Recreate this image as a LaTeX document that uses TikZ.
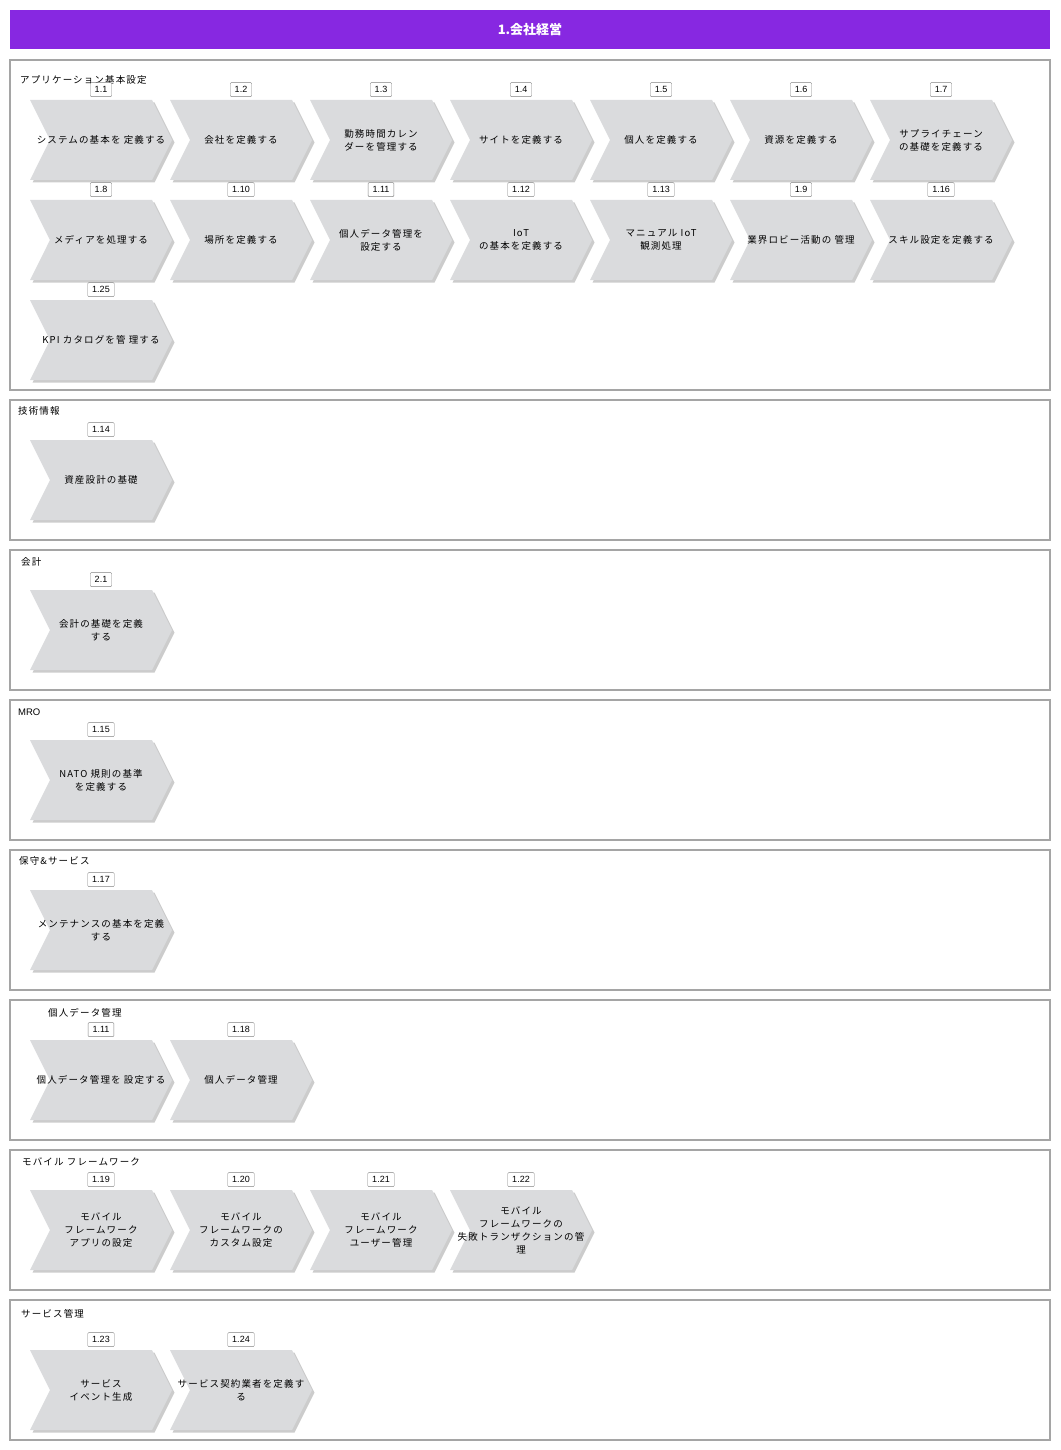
\documentclass[tikz,border=0pt]{standalone}
\usepackage{fontspec}
\setmainfont{Noto Sans CJK JP}
\newfontfamily\numfont{Liberation Sans}
\usepackage{tikz}
\usetikzlibrary{positioning, shapes.symbols, shadows}
\usepackage{xcolor}
\definecolor{titlepurple}{RGB}{135,40,225}
\definecolor{chevgray}{RGB}{218,219,221}
\definecolor{lanegray}{RGB}{165,165,165}

\tikzset{
  chev/.style={signal, signal from=west, signal to=east, signal pointer angle=126.87,
    fill=chevgray, minimum width=142, minimum height=80, inner sep=0pt,
    drop shadow={shadow xshift=2.5pt, shadow yshift=-2.5pt, fill=black!40, opacity=0.5}},
  chevtext/.style={align=center, inner sep=0pt,
    font=\fontsize{9.5}{13}\selectfont\addfontfeature{LetterSpace=12}},
  num/.style={draw=gray, rounded corners=1pt, fill=white, inner xsep=4.5pt, inner ysep=0pt,
    minimum height=14, font=\numfont\fontsize{9}{10}\selectfont},
  lane/.style={draw=lanegray, line width=1.6},
  lanelabel/.style={anchor=west, inner sep=0pt,
    font=\fontsize{9.5}{12}\selectfont\addfontfeature{LetterSpace=12}},
}

\begin{document}
\begin{tikzpicture}[x=1pt, y=-1pt]
    \useasboundingbox (0,0) rectangle (1060,1450);

    % Title
    \node[fill=titlepurple, minimum width=1040, minimum height=39, text=white,
      font=\bfseries\fontsize{13}{15}\selectfont] (title) at (530,29.5) {1.会社経営};

    % Lanes
    \draw[lane] (10,60) rectangle (1050,390);
    \draw[lane] (10,400) rectangle (1050,540);
    \draw[lane] (10,550) rectangle (1050,690);
    \draw[lane] (10,700) rectangle (1050,840);
    \draw[lane] (10,850) rectangle (1050,990);
    \draw[lane] (10,1000) rectangle (1050,1140);
    \draw[lane] (10,1150) rectangle (1050,1290);
    \draw[lane] (10,1300) rectangle (1050,1440);

    \node[lanelabel] (lappbase) at (20,80) {アプリケーション基本設定};
    \node[lanelabel] (ltechinfo) at (18,411) {技術情報};
    \node[lanelabel] (lacct) at (21,562) {会計};
    \node[lanelabel] (lmro) at (18,712) {\numfont MRO};
    \node[lanelabel] (lmaint) at (19,861) {保守\&サービス};
    \node[lanelabel] (lpdata) at (48,1013) {個人データ管理};
    \node[lanelabel] (lmobile) at (22,1162) {モバイル フレームワーク};
    \node[lanelabel] (lservice) at (21,1314) {サービス管理};

    % Application base setup
    \node[chev, label={[chevtext]center:システムの基本を 定義する}] (sysbase) at (101,140) {};
    \node[chev, label={[chevtext]center:会社を定義する}] (company) at (241,140) {};
    \node[chev, label={[chevtext]center:勤務時間カレン\\ダーを管理する}] (workcal) at (381,140) {};
    \node[chev, label={[chevtext]center:サイトを定義する}] (site) at (521,140) {};
    \node[chev, label={[chevtext]center:個人を定義する}] (person) at (661,140) {};
    \node[chev, label={[chevtext]center:資源を定義する}] (resource) at (801,140) {};
    \node[chev, label={[chevtext]center:サプライチェーン\\の基礎を定義する}] (supply) at (941,140) {};

    \node[chev, label={[chevtext]center:メディアを処理する}] (media) at (101,240) {};
    \node[chev, label={[chevtext]center:場所を定義する}] (place) at (241,240) {};
    \node[chev, label={[chevtext]center:個人データ管理を\\設定する}] (pdconf) at (381,240) {};
    \node[chev, label={[chevtext]center:IoT\\の基本を定義する}] (iotbase) at (521,240) {};
    \node[chev, label={[chevtext]center:マニュアル IoT\\観測処理}] (iotmanual) at (661,240) {};
    \node[chev, label={[chevtext]center:業界ロビー活動の 管理}] (lobby) at (801,240) {};
    \node[chev, label={[chevtext]center:スキル設定を定義する}] (skill) at (941,240) {};

    \node[chev, label={[chevtext]center:KPI カタログを管 理する}] (kpi) at (101,340) {};

    % Other lanes
    \node[chev, label={[chevtext]center:資産設計の基礎}] (assetdesign) at (101,480) {};
    \node[chev, label={[chevtext]center:会計の基礎を定義\\する}] (acctbase) at (101,630) {};
    \node[chev, label={[chevtext]center:NATO 規則の基準\\を定義する}] (nato) at (101,780) {};
    \node[chev, label={[chevtext]center:メンテナンスの基本を定義\\する}] (maintbase) at (101,930) {};

    \node[chev, label={[chevtext]center:個人データ管理を 設定する}] (pdconftwo) at (101,1080) {};
    \node[chev, label={[chevtext]center:個人データ管理}] (pdmgmt) at (241,1080) {};

    \node[chev, label={[chevtext]center:モバイル\\フレームワーク\\アプリの設定}] (mobapp) at (101,1230) {};
    \node[chev, label={[chevtext]center:モバイル\\フレームワークの\\カスタム設定}] (mobcustom) at (241,1230) {};
    \node[chev, label={[chevtext]center:モバイル\\フレームワーク\\ユーザー管理}] (mobuser) at (381,1230) {};
    \node[chev, label={[chevtext]center:モバイル\\フレームワークの\\失敗トランザクションの管\\理}] (mobfail) at (521,1230) {};

    \node[chev, label={[chevtext]center:サービス\\イベント生成}] (svcevent) at (101,1390) {};
    \node[chev, label={[chevtext]center:サービス契約業者を定義す\\る}] (svccontract) at (241,1390) {};

    % Numbers
    \node[num, above=3pt of sysbase] (nsysbase) {1.1};
    \node[num, above=3pt of company] (ncompany) {1.2};
    \node[num, above=3pt of workcal] (nworkcal) {1.3};
    \node[num, above=3pt of site] (nsite) {1.4};
    \node[num, above=3pt of person] (nperson) {1.5};
    \node[num, above=3pt of resource] (nresource) {1.6};
    \node[num, above=3pt of supply] (nsupply) {1.7};
    \node[num, above=3pt of media] (nmedia) {1.8};
    \node[num, above=3pt of place] (nplace) {1.10};
    \node[num, above=3pt of pdconf] (npdconf) {1.11};
    \node[num, above=3pt of iotbase] (niotbase) {1.12};
    \node[num, above=3pt of iotmanual] (niotmanual) {1.13};
    \node[num, above=3pt of lobby] (nlobby) {1.9};
    \node[num, above=3pt of skill] (nskill) {1.16};
    \node[num, above=3pt of kpi] (nkpi) {1.25};
    \node[num, above=3pt of assetdesign] (nassetdesign) {1.14};
    \node[num, above=3pt of acctbase] (nacctbase) {2.1};
    \node[num, above=3pt of nato] (nnato) {1.15};
    \node[num, above=3pt of maintbase] (nmaintbase) {1.17};
    \node[num, above=3pt of pdconftwo] (npdconftwo) {1.11};
    \node[num, above=3pt of pdmgmt] (npdmgmt) {1.18};
    \node[num, above=3pt of mobapp] (nmobapp) {1.19};
    \node[num, above=3pt of mobcustom] (nmobcustom) {1.20};
    \node[num, above=3pt of mobuser] (nmobuser) {1.21};
    \node[num, above=3pt of mobfail] (nmobfail) {1.22};
    \node[num, above=3pt of svcevent] (nsvcevent) {1.23};
    \node[num, above=3pt of svccontract] (nsvccontract) {1.24};
\end{tikzpicture}
\end{document}
